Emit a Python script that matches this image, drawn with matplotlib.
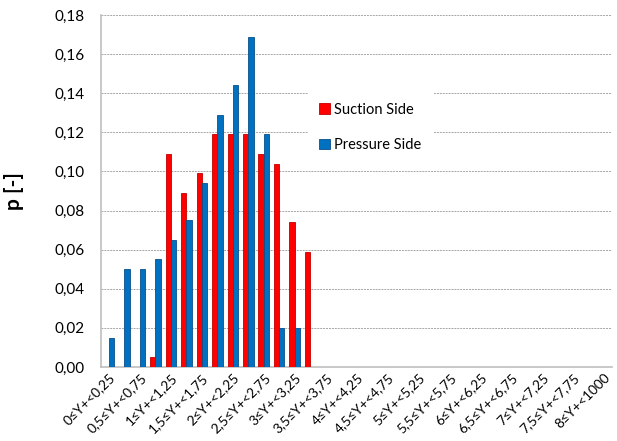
import matplotlib.pyplot as plt
import numpy as np

plt.rcParams['font.family'] = ['Lato', 'DejaVu Sans']

# categories: 0 to 8 in steps of 0.25, last one open-ended
lower = [i * 0.25 for i in range(33)]
upper = [(i + 1) * 0.25 for i in range(32)] + [1000]


def fmt(v):
    s = ('%.2f' % v).rstrip('0').rstrip('.')
    return s.replace('.', ',')


categories = ['%s≤Y+<%s' % (fmt(lo), fmt(up)) for lo, up in zip(lower, upper)]

suction = [0, 0, 0, 0.005, 0.109, 0.089, 0.099, 0.119, 0.119, 0.119,
           0.109, 0.104, 0.074, 0.059] + [0] * 19
pressure = [0.015, 0.050, 0.050, 0.055, 0.065, 0.075, 0.094, 0.129, 0.144,
            0.169, 0.119, 0.020, 0.020, 0] + [0] * 19

yticks = [0.0, 0.02, 0.04, 0.06, 0.08, 0.10, 0.12, 0.14, 0.16, 0.18]

fig = plt.figure(figsize=(6.17, 4.41), dpi=100)
ax = fig.add_axes([0.164, 0.168, 0.828, 0.798])

x = np.arange(len(categories))
w = 0.34
ax.bar(x - w / 2, suction, width=w, color='#ff0000', edgecolor='#c00000',
       linewidth=0.6, label='Suction Side', zorder=3)
ax.bar(x + w / 2, pressure, width=w, color='#0070c0', edgecolor='#0b4f8a',
       linewidth=0.6, label='Pressure Side', zorder=3)

ax.set_xlim(-0.5, len(categories) - 0.5)
ax.set_ylim(0, 0.18)
ax.set_yticks(yticks)
ax.set_yticklabels([('%.2f' % v).replace('.', ',') for v in yticks], fontsize=11)

ax.set_xticks(x[::2])
ax.set_xticklabels(categories[::2], rotation=45, ha='right',
                   rotation_mode='anchor', fontsize=9.8)
ax.tick_params(axis='y', length=0, pad=12)
ax.tick_params(axis='x', length=0, pad=3)

ax.yaxis.grid(True, color='#a6a6a6', linestyle=(0, (2, 1)), linewidth=0.7, zorder=0)
for side in ['top', 'right']:
    ax.spines[side].set_visible(False)
for side in ['left', 'bottom']:
    ax.spines[side].set_color('#bfbfbf')
    ax.spines[side].set_linewidth(1.2)

ax.set_ylabel('p [-]', fontsize=15, fontweight='bold', labelpad=22)

leg = ax.legend(loc='upper left', bbox_to_anchor=(0.39, 0.805), frameon=True,
                facecolor='white', edgecolor='none', framealpha=1,
                fontsize=10.5, handlelength=0.7, handleheight=0.7,
                handletextpad=0.3, labelspacing=1.5, borderpad=0.8,
                fancybox=False)
leg.set_zorder(5)

fig.savefig('out.png', dpi=100)
